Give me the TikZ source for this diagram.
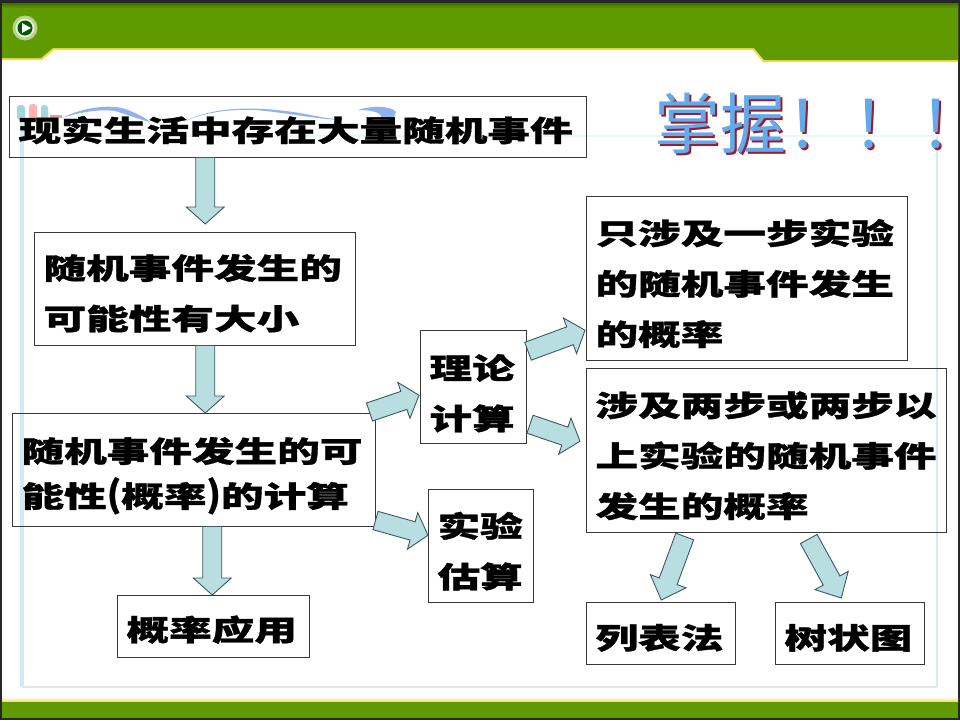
\documentclass[tikz,border=0pt]{standalone}
\usepackage{graphicx}
\usepackage{fontspec}
\setmainfont{Liberation Sans}
\newfontfamily\cjk[BoldFeatures={FakeStretch=1.47,FakeBold=1.2}]{Noto Sans CJK SC}
\newfontfamily\cjktitle{Noto Sans CJK SC}
\usetikzlibrary{calc}
\definecolor{bannergreen}{HTML}{5E9A00}
\definecolor{bannerdark}{HTML}{3F6F00}
\definecolor{edgeyellow}{HTML}{F2D94A}
\definecolor{framepale}{HTML}{D3ECF1}
\definecolor{arrowfill}{HTML}{B9DEE2}
\definecolor{arrowline}{HTML}{3C5A5C}
\definecolor{titleblue}{HTML}{62AAEC}
\definecolor{titlered}{HTML}{9C1C2C}
\definecolor{waveblue}{HTML}{8FB4EC}
\tikzset{
  labelbox/.style={draw=black!78,line width=1pt,anchor=north west,inner xsep=9pt,inner ysep=0pt,
    align=left,font=\cjk\bfseries\fontsize{29}{50.5}\selectfont},
  pushdown/.style={execute at begin node={\rule{0pt}{\dimexpr 26pt+#1\relax}}},
  fatarrow/.style={draw=arrowline,fill=arrowfill,line width=0.9pt,line join=miter},
  titletext/.style={anchor=base west,inner sep=0pt,font=\cjktitle\fontsize{66}{66}\selectfont}
}
\newcommand\blockarrow[3][16pt]{%
  \coordinate (hb) at ($(#3)!#1!(#2)$);
  \draw[fatarrow] ($(#2)!9.5pt!90:(#3)$) -- ($(hb)!9.5pt!90:(#3)$) -- ($(hb)!19pt!90:(#3)$)
    -- (#3) -- ($(hb)!19pt!-90:(#3)$) -- ($(hb)!9.5pt!-90:(#3)$) -- ($(#2)!9.5pt!-90:(#3)$) -- cycle;}
\newcommand\shadowed[1]{\rlap{\kern2pt\raisebox{-2pt}{\textcolor{titlered}{#1}}}\textcolor{titleblue}{#1}}
\newcommand\bang{\makebox[66.5pt][l]{\shadowed{！}}}
\newcommand\tallparen[1]{\scalebox{0.85}[1.22]{#1}}
\begin{document}
\begin{tikzpicture}[x=1pt,y=-1pt]
\useasboundingbox (0,0) rectangle (960,720);
\fill[black!85] (0,0) rectangle (960,720);
\fill[white] (2,3) rectangle (958,718);
% pale inner frame
\draw[framepale,line width=4pt] (22,108) -- (22,687);
\draw[black!10,line width=1.2pt] (22,687) -- (937,687);
\draw[framepale,line width=2.5pt] (937,136) -- (937,687);
\draw[framepale!45,line width=1.5pt] (24,136) -- (937,136);
% top left ornament
\fill[framepale!60!cyan!60!gray!70,rounded corners=3pt] (17,105) rectangle (25,120);
\fill[red!30,rounded corners=3pt] (29,104) rectangle (37,120);
\fill[framepale!60!cyan!60!gray!70,rounded corners=3pt] (41,105) rectangle (48,120);
\fill[red!40!gray!50] (50,115) rectangle (62,118);
\fill[waveblue] (62,118) .. controls (85,106) and (115,104) .. (128,110)
  .. controls (135,113) and (143,116) .. (150,122) .. controls (135,118) and (125,114) .. (115,111)
  .. controls (100,109) and (80,112) .. (62,118) -- cycle;
\fill[waveblue] (183,122) .. controls (215,106) and (255,106) .. (300,113)
  .. controls (315,116) and (330,119) .. (345,120) .. controls (320,120) and (290,113) .. (255,110)
  .. controls (230,109) and (205,112) .. (183,122) -- cycle;
\fill[waveblue] (358,110) .. controls (372,105) and (392,106) .. (396,112)
  .. controls (396,118) and (388,121) .. (378,122) .. controls (386,115) and (378,110) .. (358,110) -- cycle;
% top banner
\fill[edgeyellow] (2,3) -- (958,3) -- (958,62) -- (763,62) -- (753,50) -- (54,50) -- (42,60) -- (2,60) -- cycle;
\fill[bannergreen] (2,3) -- (958,3) -- (958,60) -- (764,60) -- (754,48) -- (53,48) -- (41,58) -- (2,58) -- cycle;
\shade[top color=bannerdark,bottom color=bannergreen] (2,3) rectangle (958,8);
% bottom banner
\shade[top color=white,bottom color=edgeyellow] (2,697) rectangle (958,702);
\fill[bannergreen] (2,702) rectangle (958,718);
% icon
\fill[white!55!bannergreen] (25,28) circle (12.5);
\fill[white!85!bannergreen] (25,28) circle (9.5);
\fill[green!35!black] (25,28) circle (7.5);
\fill[white] (22,23) -- (31,28) -- (22,33) -- cycle;
% title
\node[titletext] (title) at (654,148) {\shadowed{掌握}\bang\bang\makebox[20pt][l]{\shadowed{！}}};
% boxes
\node[labelbox,text width=558.5pt,minimum height=60.5pt,pushdown=6pt] (A) at (9,96) {现实生活中存在大量随机事件};
\node[labelbox,text width=302.5pt,minimum height=112.5pt,pushdown=8pt] (B) at (34,232) {随机事件发生的\\可能性有大小};
\node[labelbox,text width=344.5pt,minimum height=112.5pt,pushdown=11pt,font=\cjk\bfseries\fontsize{29}{45}\selectfont] (C) at (12,413) {随机事件发生的可\\能性\tallparen{(}概率\tallparen{)}的计算};
\node[labelbox,text width=173.5pt,minimum height=61.5pt,pushdown=6pt] (D) at (117,595) {概率应用};
\node[labelbox,text width=87.5pt,minimum height=112.5pt,pushdown=12pt] (E) at (420,330) {理论\\计算};
\node[labelbox,text width=86.5pt,minimum height=112.5pt,pushdown=10pt] (F) at (428,489) {实验\\估算};
\node[labelbox,text width=302.5pt,minimum height=163.5pt,pushdown=10pt] (G) at (586,196) {只涉及一步实验\\的随机事件发生\\的概率};
\node[labelbox,text width=341.5pt,minimum height=163.5pt,pushdown=10pt] (H) at (586,368) {涉及两步或两步以\\上实验的随机事件\\发生的概率};
\node[labelbox,text width=130.5pt,minimum height=61.5pt,pushdown=8pt] (I) at (586,602) {列表法};
\node[labelbox,text width=130.5pt,minimum height=61.5pt,pushdown=8pt] (J) at (775,602) {树状图};
% connector ends
\coordinate (a1s) at ([shift={(-92.5,0)}]A.south);
\coordinate (a1e) at ([shift={(10.5,-8)}]B.north);
\coordinate (a2s) at ([shift={(10.5,0)}]B.south);
\coordinate (a2e) at ([shift={(11.5,0)}]C.north);
\coordinate (a3s) at ([shift={(18.5,0)}]C.south);
\coordinate (a3e) at ([shift={(-1,0)}]D.north);
\coordinate (a4s) at ([shift={(-6,-1)}]C.north east);
\coordinate (a4e) at ([shift={(-1,8.5)}]E.west);
\coordinate (a5s) at ([shift={(1.5,-35.5)}]E.east);
\coordinate (a5e) at ([shift={(-1,52)}]G.west);
\coordinate (a6s) at ([shift={(3.5,37.5)}]E.east);
\coordinate (a6e) at ([shift={(-6,-9)}]H.west);
\coordinate (a7s) at ([shift={(0,-6)}]C.south east);
\coordinate (a7e) at ([shift={(0,-10.5)}]F.west);
\coordinate (a8s) at ([shift={(-81.5,4)}]H.south);
\coordinate (a8e) at ([shift={(0.5,-2)}]I.north);
\coordinate (a9s) at ([shift={(42.5,6.5)}]H.south);
\coordinate (a9e) at ([shift={(-8.5,-4)}]J.north);
% block arrows
\blockarrow[17pt]{a1s}{a1e}
\blockarrow[17pt]{a2s}{a2e}
\blockarrow[17pt]{a3s}{a3e}
\blockarrow{a4s}{a4e}
\blockarrow{a5s}{a5e}
\blockarrow{a6s}{a6e}
\blockarrow{a7s}{a7e}
\blockarrow[20pt]{a8s}{a8e}
\blockarrow[20pt]{a9s}{a9e}
\end{tikzpicture}
\end{document}
